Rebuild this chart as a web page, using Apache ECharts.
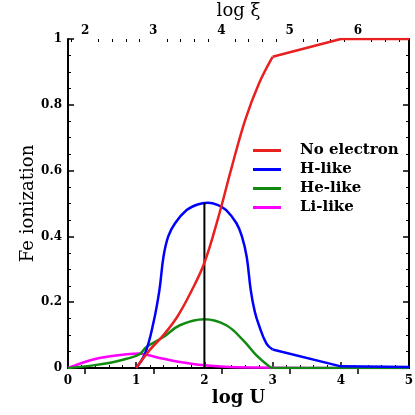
<!DOCTYPE html>
<html>
<head>
<meta charset="utf-8">
<script src="https://cdn.jsdelivr.net/npm/echarts@6/dist/echarts.min.js"></script>
<style>html,body{margin:0;padding:0;background:#fff}#c{width:415px;height:415px}</style>
</head>
<body>
<div id="c"></div>
<script>
// ---- data ----
const logUTicks = [0, 1, 2, 3, 4, 5];
const logXiTicks = [2, 3, 4, 5, 6];
const logXiMinorTicks = [1.8, 2.2, 2.4, 2.6, 2.8, 3.2, 3.4, 3.6, 3.8, 4.2, 4.4, 4.6, 4.8, 5.2, 5.4, 5.6, 5.8, 6.2, 6.4, 6.6];
const seriesNames = ['No electron', 'H-like', 'He-like', 'Li-like'];

// No electron (curved part then straight tail)
const noElecU = [1.0, 1.2, 1.4, 1.6, 1.8, 2.0, 2.2, 2.4, 2.6, 2.8, 3.0];
const noElecV = [0.0, 0.055, 0.10, 0.155, 0.23, 0.32, 0.455, 0.61, 0.755, 0.865, 0.946];
const noElecTailU = [3.0, 4.0, 5.0];
const noElecTailV = [0.946, 1.0, 1.0];

// H-like
const hU = [1.0, 1.13, 1.25, 1.34, 1.40, 1.47, 1.57, 1.74, 1.90, 2.05, 2.20, 2.32, 2.47, 2.55, 2.62, 2.68, 2.74, 2.80, 2.91, 3.0];
const hV = [0.0, 0.044, 0.135, 0.236, 0.338, 0.40, 0.44, 0.480, 0.497, 0.502, 0.495, 0.480, 0.440, 0.400, 0.338, 0.236, 0.170, 0.130, 0.074, 0.056];
const hTailU = [3.0, 4.0, 5.0];
const hTailV = [0.056, 0.005, 0.003];

// He-like
const heU = [0.0, 0.37, 0.62, 0.86, 1.05, 1.15, 1.40, 1.64, 2.0, 2.32, 2.57, 2.76, 2.96, 3.0];
const heV = [0.0, 0.008, 0.016, 0.028, 0.042, 0.064, 0.094, 0.130, 0.148, 0.130, 0.084, 0.039, 0.003, 0.0];
const heTailU = [3.0, 5.0];
const heTailV = [0.0, 0.0];

// Li-like
const liU = [0.0, 0.37, 0.62, 0.86, 1.05, 1.15, 1.40, 1.64, 2.0, 2.37, 3.0, 4.0, 5.0];
const liV = [0.0, 0.026, 0.036, 0.042, 0.044, 0.040, 0.028, 0.018, 0.008, 0.003, 0.001, 0.0, 0.0];

// vertical marker at log U = 2
const markU = [2.0, 2.0];
const markV = [0.0, 0.502];

const colors = {'No electron': '#e8201f', 'H-like': '#0000ff', 'He-like': '#108a10', 'Li-like': '#ff00ff'};

function pairs(xs, ys) { return xs.map((x, i) => [x, ys[i]]); }

const serif = 'DejaVu Serif';
const chart = echarts.init(document.getElementById('c'), null, {renderer: 'canvas'});

function curve(name, xs, ys, smooth, z) {
  return {
    name: name, type: 'line', data: pairs(xs, ys), xAxisIndex: 0, yAxisIndex: 0,
    showSymbol: false, smooth: smooth ? 0.4 : false,
    lineStyle: {color: colors[name], width: 2.5}, itemStyle: {color: colors[name]},
    z: z, silent: true, animation: false
  };
}

const tickLabel = {fontFamily: serif, fontWeight: 'bold', fontSize: 12, color: '#000'};

chart.setOption({
  animation: false,
  grid: {left: 68, right: 6, top: 39, bottom: 47, containLabel: false, outerBoundsMode: 'none'},
  legend: {
    data: seriesNames, orient: 'vertical', left: 248, top: 138,
    icon: 'rect', itemWidth: 28, itemHeight: 3, itemGap: 4,
    formatter: function (n) { return '{t|' + n + '}'; },
    textStyle: {
      fontFamily: serif, fontWeight: 'bold', fontSize: 15, color: '#000', lineHeight: 15,
      rich: {t: {fontFamily: serif, fontWeight: 'bold', fontSize: 15, color: '#000', lineHeight: 15, padding: [0, 0, 0, 14]}}
    },
    selectedMode: false
  },
  xAxis: [
    {
      type: 'value', position: 'bottom', min: 0, max: 5, interval: 1,
      name: 'log U', nameLocation: 'middle', nameGap: 21, nameMoveOverlap: false,
      nameTextStyle: {fontFamily: serif, fontWeight: 'bold', fontSize: 18, color: '#000'},
      axisLine: {show: true, lineStyle: {color: '#000', width: 2}},
      axisTick: {show: true, inside: true, length: 6, lineStyle: {color: '#000', width: 1.5}},
      minorTick: {show: true, splitNumber: 5, length: 3, lineStyle: {color: '#000', width: 1}},
      axisLabel: Object.assign({margin: 7, customValues: logUTicks}, tickLabel),
      splitLine: {show: false}
    },
    {
      type: 'value', position: 'top', min: 1.75, max: 6.75,
      name: 'log ξ', nameLocation: 'middle', nameGap: 19, nameMoveOverlap: false,
      nameTextStyle: {fontFamily: serif, fontSize: 18, color: '#000'},
      axisLine: {show: true, lineStyle: {color: '#000', width: 2}},
      axisTick: {show: true, inside: true, length: 6, customValues: logXiTicks, lineStyle: {color: '#000', width: 1.5}},
      axisLabel: Object.assign({margin: 2, customValues: logXiTicks}, tickLabel),
      splitLine: {show: false}
    },
    {
      type: 'value', position: 'top', min: 1.75, max: 6.75,
      axisLine: {show: false},
      axisTick: {show: true, inside: true, length: 3, customValues: logXiMinorTicks, lineStyle: {color: '#000', width: 1}},
      axisLabel: {show: false},
      splitLine: {show: false}
    }
  ],
  yAxis: [
    {
      type: 'value', position: 'left', min: 0, max: 1, interval: 0.2,
      name: 'Fe ionization', nameLocation: 'middle', nameGap: 31, nameMoveOverlap: false,
      nameTextStyle: {fontFamily: serif, fontSize: 18, color: '#000'},
      axisLine: {show: true, lineStyle: {color: '#000', width: 2}},
      axisTick: {show: true, inside: true, length: 6, lineStyle: {color: '#000', width: 1.5}},
      minorTick: {show: true, splitNumber: 4, length: 3, lineStyle: {color: '#000', width: 1}},
      axisLabel: Object.assign({margin: 6}, tickLabel),
      splitLine: {show: false}
    },
    {
      type: 'value', position: 'right', min: 0, max: 1, interval: 0.2,
      axisLine: {show: true, lineStyle: {color: '#000', width: 2}},
      axisTick: {show: true, inside: true, length: 6, lineStyle: {color: '#000', width: 1.5}},
      minorTick: {show: true, splitNumber: 4, length: 3, lineStyle: {color: '#000', width: 1}},
      axisLabel: {show: false},
      splitLine: {show: false}
    }
  ],
  series: [
    curve('Li-like', liU, liV, true, 2),
    curve('He-like', heU, heV, true, 3),
    curve('He-like', heTailU, heTailV, false, 3),
    curve('H-like', hU, hV, true, 4),
    curve('H-like', hTailU, hTailV, false, 4),
    {
      name: 'marker', type: 'line', data: pairs(markU, markV), xAxisIndex: 0, yAxisIndex: 0,
      showSymbol: false, lineStyle: {color: '#000', width: 2}, z: 5, silent: true
    },
    curve('No electron', noElecU, noElecV, true, 6),
    curve('No electron', noElecTailU, noElecTailV, false, 6)
  ]
});
</script>
</body>
</html>
